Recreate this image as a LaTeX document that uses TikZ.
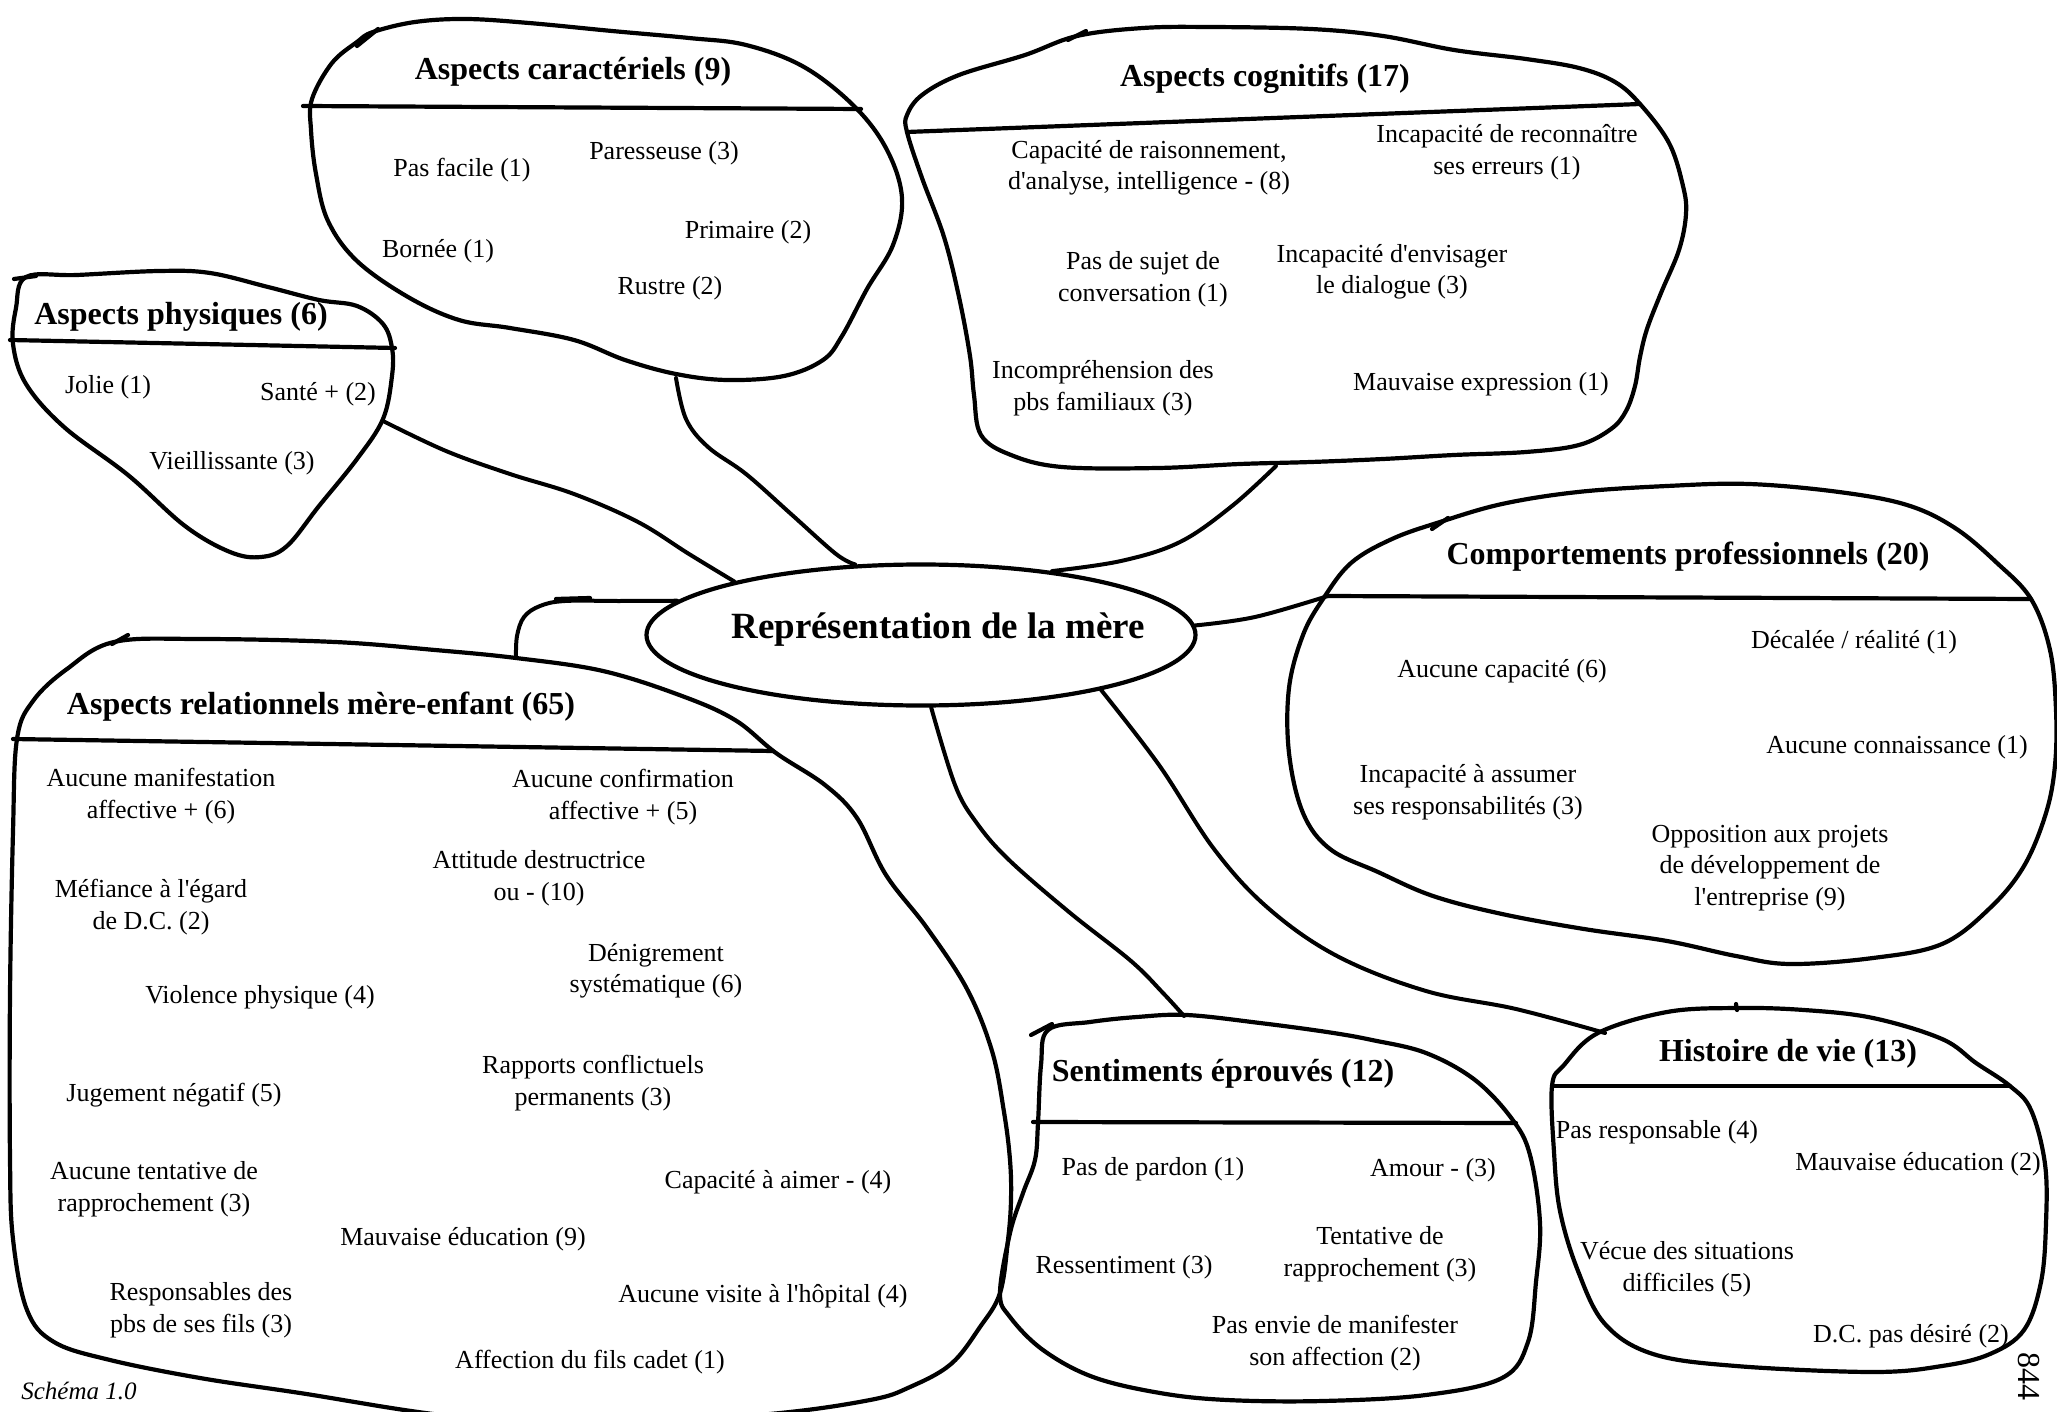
\documentclass[tikz,border=0pt]{standalone}
\usepackage{fontspec}
\setmainfont{Liberation Serif}
\usetikzlibrary{shapes.geometric}
\newcommand{\ap}{\textquotesingle}
\begin{document}
\begin{tikzpicture}[x=1pt,y=-1pt,
  blob/.style={line width=4.2pt, line join=round, line cap=round},
  link/.style={line width=4pt, line join=round, line cap=round},
  item/.style={font=\fontsize{26}{31.5}\selectfont, align=center, inner sep=0pt},
  ttl/.style={font=\fontsize{32}{38}\selectfont\bfseries, inner sep=0pt},
]
\path[use as bounding box, fill=white] (0,0) rectangle (2057,1412);

% ---------- central ellipse ----------
\node[draw, ellipse, line width=4.2pt, minimum width=549pt, minimum height=141pt, inner sep=0pt] (rep) at (921,635) {};
\node[font=\fontsize{37}{44}\selectfont\bfseries, inner sep=0pt] (rep-txt) at (938,630) {Représentation de la mère};

% ---------- Aspects caractériels ----------
\draw[blob] plot[smooth cycle, tension=0.6] coordinates {
  (373,32) (415,22) (466,19) (529,23) (612,31) (689,38) (746,45) (804,67)
  (855,107) (887,150) (902,198) (893,245) (867,289) (842,336) (823,360)
  (784,376) (727,380) (676,374) (625,360) (574,340) (510,328) (459,320)
  (408,297) (357,261) (328,221) (316,174) (311,130) (312,99) (332,63) (357,42)};
\draw[blob] (357,46) -- (378,29);
\coordinate (car-dl) at (303,106);
\coordinate (car-dr) at (861,109);
\draw[blob] (car-dl) -- (car-dr);
\node[ttl] (car-t) at (573,72) {Aspects caractériels (9)};
\node[item] (car-1) at (462,170) {Pas facile (1)};
\node[item] (car-2) at (664,153) {Paresseuse (3)};
\node[item] (car-3) at (748,232) {Primaire (2)};
\node[item] (car-4) at (438,251) {Bornée (1)};
\node[item] (car-5) at (670,288) {Rustre (2)};
\coordinate (car-c) at (676,378);

% ---------- Aspects physiques ----------
\draw[blob] plot[smooth cycle, tension=0.6] coordinates {
  (26,277) (77,275) (159,271) (210,273) (268,287) (319,300) (357,306)
  (383,324) (392,348) (392,376) (383,419) (357,459) (319,506) (287,546)
  (261,557) (230,552) (185,526) (128,475) (64,427) (26,384) (13,344) (16,308)};
\draw[blob] (14,279) -- (36,276);
\coordinate (phy-dl) at (10,340);
\coordinate (phy-dr) at (395,348);
\draw[blob] (phy-dl) -- (phy-dr);
\node[ttl] (phy-t) at (181,317) {Aspects physiques (6)};
\node[item] (phy-1) at (108,387) {Jolie (1)};
\node[item] (phy-2) at (318,394) {Santé + (2)};
\node[item] (phy-3) at (232,463) {Vieillissante (3)};
\coordinate (phy-c) at (383,421);

% ---------- Aspects cognitifs ----------
\draw[blob] plot[smooth cycle, tension=0.6] coordinates {
  (1077,36) (1143,28) (1210,27) (1311,29) (1383,36) (1454,50) (1526,59)
  (1579,68) (1615,82) (1640,104) (1669,143) (1683,186) (1686,214) (1679,250)
  (1661,293) (1647,329) (1640,357) (1635,386) (1626,411) (1611,429) (1579,445)
  (1526,452) (1454,455) (1383,459) (1311,462) (1240,464) (1158,468) (1062,467)
  (1011,455) (981,435) (974,395) (970,356) (959,297) (944,237) (922,178)
  (907,132) (907,115) (922,95) (959,75) (1025,55)};
\draw[blob] (1068,40) -- (1086,31);
\coordinate (cog-dl) at (907,132);
\coordinate (cog-dr) at (1640,104);
\draw[blob] (cog-dl) -- (cog-dr);
\node[ttl] (cog-t) at (1265,79) {Aspects cognitifs (17)};
\node[item] (cog-1) at (1149,168) {Capacité de raisonnement,\\d\ap analyse, intelligence - (8)};
\node[item] (cog-2) at (1507,152) {Incapacité de reconnaître\\ses erreurs (1)};
\node[item] (cog-3) at (1143,279) {Pas de sujet de\\conversation (1)};
\node[item] (cog-4) at (1392,272) {Incapacité d\ap envisager\\le dialogue (3)};
\node[item] (cog-5) at (1103,388) {Incompréhension des\\pbs familiaux (3)};
\node[item] (cog-6) at (1481,384) {Mauvaise expression (1)};
\coordinate (cog-c) at (1276,466);

% ---------- Comportements professionnels ----------
\draw[blob] plot[smooth cycle, tension=0.6] coordinates {
  (1440,522) (1502,504) (1578,492) (1667,486) (1749,484) (1839,492) (1907,505)
  (1955,528) (1997,563) (2031,599) (2050,650) (2056,710) (2055,765) (2046,813)
  (2024,866) (1990,908) (1942,944) (1873,958) (1790,964) (1736,956) (1667,941)
  (1584,929) (1502,914) (1433,896) (1378,872) (1330,849) (1303,813) (1289,753)
  (1289,688) (1303,635) (1323,599) (1351,563) (1392,539)};
\draw[blob] (1432,529) -- (1448,518);
\coordinate (pro-dl) at (1328,596);
\coordinate (pro-dr) at (2031,599);
\draw[blob] (pro-dl) -- (pro-dr);
\node[ttl] (pro-t) at (1688,557) {Comportements professionnels (20)};
\node[item] (pro-1) at (1854,642) {Décalée / réalité (1)};
\node[item] (pro-2) at (1502,671) {Aucune capacité (6)};
\node[item] (pro-3) at (1897,747) {Aucune connaissance (1)};
\node[item] (pro-4) at (1468,792) {Incapacité à assumer\\ses responsabilités (3)};
\node[item] (pro-5) at (1770,868) {Opposition aux projets\\de développement de\\l\ap entreprise (9)};

% ---------- Aspects relationnels mère-enfant ----------
\draw[blob] plot[smooth cycle, tension=0.6] coordinates {
  (114,642) (200,639) (335,642) (435,650) (516,658) (603,671) (682,696)
  (735,720) (776,753) (825,785) (857,818) (886,875) (927,928) (967,989)
  (992,1051) (1004,1112) (1010,1160) (1011,1200) (1008,1240) (1000,1293)
  (980,1327) (951,1364) (910,1387) (870,1400) (770,1414) (600,1425)
  (450,1416) (300,1393) (200,1378) (110,1360) (54,1342) (27,1310) (13,1239)
  (10,1158) (10,995) (13,832) (17,739) (33,701) (67,669)};
\draw[blob] (112,644) -- (128,635);
\coordinate (rel-dl) at (13,739);
\coordinate (rel-dr) at (773,751);
\draw[blob] (rel-dl) -- (rel-dr);
\node[ttl] (rel-t) at (321,707) {Aspects relationnels mère-enfant (65)};
\node[item] (rel-1) at (161,796) {Aucune manifestation\\affective + (6)};
\node[item] (rel-2) at (623,797) {Aucune confirmation\\affective + (5)};
\node[item] (rel-3) at (539,878) {Attitude destructrice\\ou - (10)};
\node[item] (rel-4) at (151,907) {Méfiance à l\ap égard\\de D.C. (2)};
\node[item] (rel-5) at (656,971) {Dénigrement\\systématique (6)};
\node[item] (rel-6) at (260,997) {Violence physique (4)};
\node[item] (rel-7) at (593,1083) {Rapports conflictuels\\permanents (3)};
\node[item] (rel-8) at (174,1095) {Jugement négatif (5)};
\node[item] (rel-9) at (154,1189) {Aucune tentative de\\rapprochement (3)};
\node[item] (rel-10) at (778,1182) {Capacité à aimer - (4)};
\node[item] (rel-11) at (463,1239) {Mauvaise éducation (9)};
\node[item] (rel-12) at (201,1310) {Responsables des\\pbs de ses fils (3)};
\node[item] (rel-13) at (763,1296) {Aucune visite à l\ap hôpital (4)};
\node[item] (rel-14) at (590,1362) {Affection du fils cadet (1)};
\coordinate (rel-c) at (516,658);

% ---------- Sentiments éprouvés ----------
\draw[blob] plot[smooth cycle, tension=0.6] coordinates {
  (1048,1030) (1090,1022) (1137,1017) (1187,1015) (1260,1023) (1327,1032)
  (1372,1040) (1426,1053) (1475,1080) (1512,1119) (1530,1155) (1540,1223)
  (1536,1282) (1528,1342) (1502,1378) (1426,1395) (1323,1401) (1227,1400)
  (1160,1393) (1093,1377) (1043,1350) (1010,1317) (1000,1293) (1010,1233)
  (1023,1193) (1035,1160) (1038,1123) (1041,1065)};
\draw[blob] (1031,1035) -- (1052,1024);
\coordinate (sen-dl) at (1033,1122);
\coordinate (sen-dr) at (1516,1123);
\draw[blob] (sen-dl) -- (sen-dr);
\node[ttl] (sen-t) at (1223,1074) {Sentiments éprouvés (12)};
\node[item] (sen-1) at (1153,1169) {Pas de pardon (1)};
\node[item] (sen-2) at (1433,1170) {Amour - (3)};
\node[item] (sen-3) at (1124,1267) {Ressentiment (3)};
\node[item] (sen-4) at (1380,1254) {Tentative de\\rapprochement (3)};
\node[item] (sen-5) at (1335,1343) {Pas envie de manifester\\son affection (2)};
\coordinate (sen-c) at (1184,1016);

% ---------- Histoire de vie ----------
\draw[blob] plot[smooth cycle, tension=0.6] coordinates {
  (1564,1065) (1598,1033) (1667,1012) (1736,1008) (1804,1010) (1873,1018)
  (1942,1039) (1976,1063) (2010,1086) (2031,1110) (2045,1164) (2046,1223)
  (2041,1282) (2024,1330) (1990,1354) (1942,1366) (1873,1372) (1736,1366)
  (1653,1354) (1605,1324) (1578,1271) (1560,1211) (1554,1152) (1552,1086)};
\draw[blob] (1736,1004) -- (1737,1010);
\coordinate (his-dl) at (1552,1086);
\coordinate (his-dr) at (2010,1086);
\draw[blob] (his-dl) -- (his-dr);
\node[ttl] (his-t) at (1788,1054) {Histoire de vie (13)};
\node[item] (his-1) at (1657,1132) {Pas responsable (4)};
\node[item] (his-2) at (1918,1164) {Mauvaise éducation (2)};
\node[item] (his-3) at (1687,1269) {Vécue des situations\\difficiles (5)};
\node[item] (his-4) at (1911,1336) {D.C. pas désiré (2)};
\coordinate (his-c) at (1605,1033);

% ---------- connectors to the central ellipse ----------
\draw[link] plot[smooth, tension=0.6] coordinates {(phy-c) (446,451) (510,474) (574,494) (638,522) (689,554) (rep.164)};
\draw[link] plot[smooth, tension=0.6] coordinates {(car-c) (686,419) (708,447) (746,474) (791,514) (836,554) (rep.133)};
\draw[link] plot[smooth, tension=0.6] coordinates {(cog-c) (1232,506) (1180,542) (1121,561) (rep.26)};
\draw[link] plot[smooth, tension=0.6] coordinates {(rel-c) (517,636) (524,617) (540,606) (565,601) (620,601) (rep.172)};
\draw[blob] (556,599) -- (590,598);
\draw[link] plot[smooth, tension=0.6] coordinates {(rep.2) (1255,617) (pro-dl)};
\draw[link] plot[smooth, tension=0.6] coordinates {(rep.-17) (1159,765) (1214,849) (1268,908) (1337,956) (1426,991) (1516,1009) (his-c)};
\draw[link] plot[smooth, tension=0.6] coordinates {(rep.-82) (955,785) (976,822) (1008,859) (1069,912) (1131,961) (1163,993) (sen-c)};

% ---------- captions ----------
\node[font=\fontsize{25}{30}\selectfont\itshape, inner sep=0pt] (cap) at (79,1391) {Schéma 1.0};
\node[font=\fontsize{32}{38}\selectfont, inner sep=0pt, rotate=-90, anchor=west] (pg) at (2029,1352) {844};
\end{tikzpicture}
\end{document}
